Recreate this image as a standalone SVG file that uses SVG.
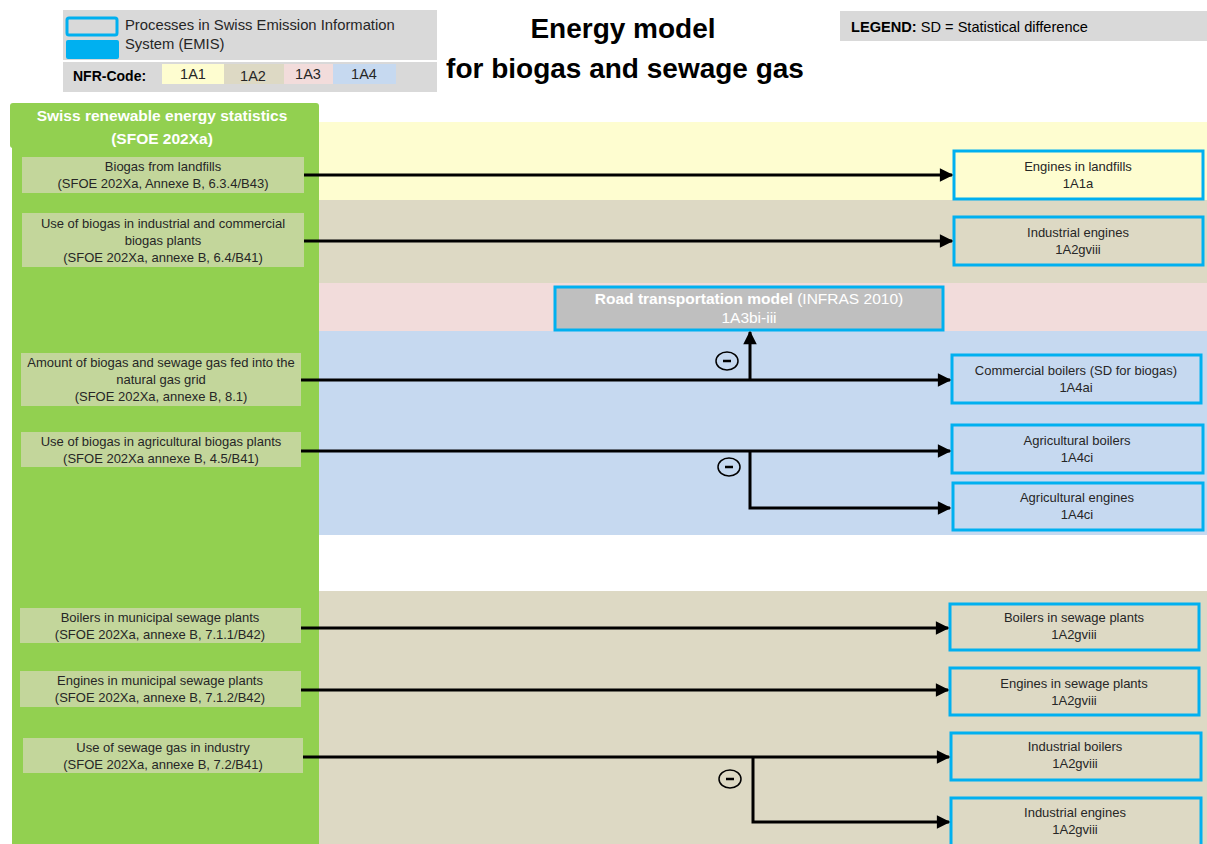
<svg xmlns="http://www.w3.org/2000/svg" width="1207" height="844" viewBox="0 0 1207 844">
<defs>
<marker id="arr" viewBox="0 0 10 10" refX="9" refY="5" markerWidth="5" markerHeight="4.5" orient="auto" markerUnits="strokeWidth">
<path d="M0,0 L10,5 L0,10 z" fill="#000"/>
</marker>
<style>
text{font-family:"Liberation Sans",Arial,sans-serif;fill:#262626;}
.src{fill:#c3d69b;}
.tgt{stroke:#00b0f0;stroke-width:3;}
.t{font-size:13px;text-anchor:middle;}
.conn{stroke:#000;stroke-width:3;fill:none;}
.minus{fill:none;stroke:#000;stroke-width:1.5;}
</style>
</defs>
<rect width="1207" height="844" fill="#fff"/>

<!-- bands -->
<g id="bands">
<rect x="319" y="122" width="888" height="78" fill="#fefdd0"/>
<rect x="319" y="200" width="888" height="83" fill="#ddd9c4"/>
<rect x="319" y="283" width="888" height="48" fill="#f2dcdb"/>
<rect x="319" y="331" width="888" height="204" fill="#c6d9f0"/>
<rect x="319" y="591" width="888" height="253" fill="#ddd9c4"/>
</g>

<!-- legend -->
<g id="legend">
<rect x="63" y="10" width="374" height="50" fill="#d9d9d9"/>
<rect x="63" y="62" width="374" height="30" fill="#d9d9d9"/>
<rect x="67" y="18" width="50" height="17" fill="#d9d9d9" stroke="#00b0f0" stroke-width="3" rx="2"/>
<rect x="66" y="40" width="53" height="19" fill="#00b0f0" rx="2"/>
<text x="125" y="30" style="font-size:14.8px">Processes in Swiss Emission Information</text>
<text x="125" y="49" style="font-size:14.8px">System (EMIS)</text>
<text x="73" y="81" style="font-size:14px;font-weight:bold;fill:#000">NFR-Code:</text>
<rect x="162" y="64" width="62" height="20" fill="#fefdd0"/>
<rect x="224" y="64" width="60" height="20" fill="#ddd9c4"/>
<rect x="284" y="64" width="49" height="20" fill="#f2dcdb"/>
<rect x="333" y="64" width="63" height="20" fill="#c6d9f0"/>
<text x="193" y="79" style="font-size:14.5px;text-anchor:middle">1A1</text>
<text x="253" y="81" style="font-size:14.5px;text-anchor:middle">1A2</text>
<text x="308" y="79" style="font-size:14.5px;text-anchor:middle">1A3</text>
<text x="364" y="79" style="font-size:14.5px;text-anchor:middle">1A4</text>
</g>

<g id="title">
<text x="623" y="38" style="font-size:28px;font-weight:bold;text-anchor:middle;fill:#000">Energy model</text>
<text x="625" y="78" style="font-size:28px;font-weight:bold;text-anchor:middle;fill:#000">for biogas and sewage gas</text>
</g>

<g id="legend-sd">
<rect x="840" y="11" width="367" height="30" fill="#d9d9d9"/>
<text x="851" y="32" style="font-size:14.6px;fill:#000"><tspan font-weight="bold">LEGEND:</tspan> SD = Statistical difference</text>
</g>

<!-- green panel -->
<g id="sfoe">
<rect x="10" y="103" width="309" height="45" fill="#92d050" rx="3"/>
<rect x="12" y="140" width="307" height="704" fill="#92d050"/>
<text x="162" y="121" style="font-size:15.5px;font-weight:bold;fill:#fff;text-anchor:middle">Swiss renewable energy statistics</text>
<text x="162" y="144" style="font-size:15.5px;font-weight:bold;fill:#fff;text-anchor:middle">(SFOE 202Xa)</text>
</g>

<g id="src1"><rect class="src" x="22" y="157" width="282" height="36"/>
<text class="t" x="163" y="171">Biogas from landfills</text><text class="t" x="163" y="188">(SFOE 202Xa, Annexe B, 6.3.4/B43)</text></g>
<g id="src2"><rect class="src" x="22" y="213" width="282" height="54"/>
<text class="t" x="163" y="228">Use of biogas in industrial and commercial</text><text class="t" x="163" y="245">biogas plants</text><text class="t" x="163" y="262">(SFOE 202Xa, annexe B, 6.4/B41)</text></g>
<g id="src3"><rect class="src" x="21" y="353" width="280" height="53"/>
<text class="t" x="161" y="367">Amount of biogas and sewage gas fed into the</text><text class="t" x="161" y="384">natural gas grid</text><text class="t" x="161" y="401">(SFOE 202Xa, annexe B, 8.1)</text></g>
<g id="src4"><rect class="src" x="21" y="432" width="280" height="35"/>
<text class="t" x="161" y="446">Use of biogas in agricultural biogas plants</text><text class="t" x="161" y="463">(SFOE 202Xa annexe B, 4.5/B41)</text></g>
<g id="src5"><rect class="src" x="20" y="608" width="281" height="35"/>
<text class="t" x="160" y="622">Boilers in municipal sewage plants</text><text class="t" x="160" y="639">(SFOE 202Xa, annexe B, 7.1.1/B42)</text></g>
<g id="src6"><rect class="src" x="20" y="671" width="281" height="36"/>
<text class="t" x="160" y="685">Engines in municipal sewage plants</text><text class="t" x="160" y="702">(SFOE 202Xa, annexe B, 7.1.2/B42)</text></g>
<g id="src7"><rect class="src" x="23" y="738" width="280" height="35"/>
<text class="t" x="163" y="752">Use of sewage gas in industry</text><text class="t" x="163" y="769">(SFOE 202Xa, annexe B, 7.2/B41)</text></g>

<!-- targets -->
<g id="t1"><rect class="tgt" x="954" y="151" width="249" height="48" fill="#fefdd0"/>
<text class="t" x="1078" y="171">Engines in landfills</text><text class="t" x="1078" y="188">1A1a</text></g>
<g id="t2"><rect class="tgt" x="954" y="217" width="249" height="48" fill="#ddd9c4"/>
<text class="t" x="1078" y="237">Industrial engines</text><text class="t" x="1078" y="254">1A2gviii</text></g>
<g id="t3"><rect class="tgt" x="555" y="287" width="388" height="43" fill="#bfbfbf"/>
<text x="749" y="304" style="font-size:15.5px;text-anchor:middle;fill:#fff"><tspan font-weight="bold">Road transportation  model</tspan> (INFRAS 2010)</text>
<text x="749" y="323" style="font-size:15.5px;text-anchor:middle;fill:#fff">1A3bi-iii</text></g>
<g id="t4"><rect class="tgt" x="952" y="355" width="249" height="48" fill="#c6d9f0"/>
<text class="t" x="1076" y="375">Commercial boilers (SD for biogas)</text><text class="t" x="1076" y="392">1A4ai</text></g>
<g id="t5"><rect class="tgt" x="952" y="425" width="251" height="48" fill="#c6d9f0"/>
<text class="t" x="1077" y="445">Agricultural boilers</text><text class="t" x="1077" y="462">1A4ci</text></g>
<g id="t6"><rect class="tgt" x="953" y="483" width="250" height="47" fill="#c6d9f0"/>
<text class="t" x="1077" y="502">Agricultural engines</text><text class="t" x="1077" y="519">1A4ci</text></g>
<g id="t7"><rect class="tgt" x="950" y="604" width="249" height="46" fill="#ddd9c4"/>
<text class="t" x="1074" y="622">Boilers in sewage plants</text><text class="t" x="1074" y="639">1A2gviii</text></g>
<g id="t8"><rect class="tgt" x="950" y="668" width="249" height="47" fill="#ddd9c4"/>
<text class="t" x="1074" y="688">Engines in sewage plants</text><text class="t" x="1074" y="705">1A2gviii</text></g>
<g id="t9"><rect class="tgt" x="951" y="733" width="250" height="47" fill="#ddd9c4"/>
<text class="t" x="1075" y="751">Industrial boilers</text><text class="t" x="1075" y="768">1A2gviii</text></g>
<g id="t10"><rect class="tgt" x="951" y="798" width="250" height="50" fill="#ddd9c4"/>
<text class="t" x="1075" y="817">Industrial engines</text><text class="t" x="1075" y="834">1A2gviii</text></g>

<!-- connectors -->
<g id="connectors">
<path class="conn" d="M304,175 H952" marker-end="url(#arr)"/>
<path class="conn" d="M304,241 H952" marker-end="url(#arr)"/>
<path class="conn" d="M301,380 H950" marker-end="url(#arr)"/>
<path class="conn" d="M750,380 V332" marker-end="url(#arr)"/>
<path class="conn" d="M301,451 H950" marker-end="url(#arr)"/>
<path class="conn" d="M750,451 V508 H950" marker-end="url(#arr)"/>
<path class="conn" d="M301,628 H948" marker-end="url(#arr)"/>
<path class="conn" d="M301,690 H948" marker-end="url(#arr)"/>
<path class="conn" d="M303,757 H949" marker-end="url(#arr)"/>
<path class="conn" d="M753,757 V822 H949" marker-end="url(#arr)"/>
<ellipse class="minus" cx="727" cy="361" rx="11" ry="9"/>
<line x1="723" y1="361" x2="731" y2="361" stroke="#000" stroke-width="2.5"/>
<ellipse class="minus" cx="729" cy="467" rx="11" ry="9"/>
<line x1="725" y1="467" x2="733" y2="467" stroke="#000" stroke-width="2.5"/>
<ellipse class="minus" cx="730" cy="779" rx="11" ry="9"/>
<line x1="726" y1="779" x2="734" y2="779" stroke="#000" stroke-width="2.5"/>
</g>
</svg>
